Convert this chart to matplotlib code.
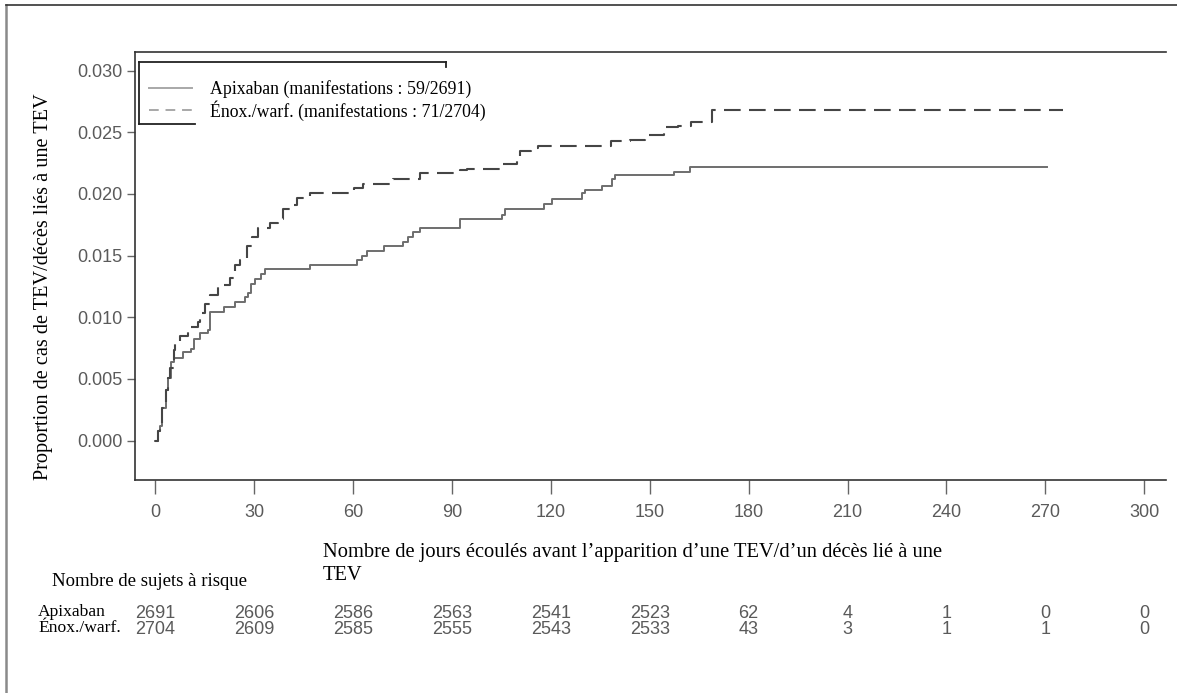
import matplotlib
matplotlib.use("Agg")
import matplotlib.pyplot as plt
import matplotlib.transforms as mtransforms
from matplotlib.lines import Line2D

# Kaplan-Meier style cumulative event curves
apix_days = [0, 1.0, 1.5, 2.0, 3.2, 4.0, 4.75, 5.6, 8.6, 10.8, 11.8, 13.6, 15.9, 16.5,
             20.9, 24.3, 27.3, 28.3, 29.0, 30.3, 32.0, 33.4, 47.0, 61.2, 62.7, 64.2,
             69.3, 75.3, 76.8, 78.3, 80.2, 92.5, 105.1, 106.2, 118.0, 120.3, 129.6,
             130.4, 135.4, 138.5, 139.5, 157.3, 162.3, 270.4]
apix_cum = [0, 0.0008, 0.0012, 0.0026, 0.0041, 0.0051, 0.0064, 0.0067, 0.0072, 0.0074,
            0.0082, 0.0087, 0.0090, 0.0104, 0.0108, 0.0112, 0.0116, 0.0120, 0.0127,
            0.0131, 0.0135, 0.0139, 0.0142, 0.0146, 0.0150, 0.0154, 0.0158, 0.0161,
            0.0165, 0.0169, 0.0172, 0.0180, 0.0183, 0.0188, 0.0192, 0.0196, 0.0201,
            0.0203, 0.0206, 0.0212, 0.0215, 0.0218, 0.0222, 0.0222]

enox_days = [0, 1.0, 1.5, 2.0, 3.2, 4.0, 4.6, 5.6, 6.1, 7.6, 10.1, 13.1, 13.6, 15.2,
             16.7, 19.2, 22.7, 24.3, 25.8, 27.8, 29.3, 31.3, 34.9, 37.4, 38.9, 40.9,
             42.9, 47.0, 60.2, 63.2, 72.3, 80.4, 92.5, 94.5, 104.6, 109.7, 110.7,
             113.9, 116.0, 138.2, 144.0, 148.6, 154.4, 158.5, 162.5, 168.9, 275.4]
enox_cum = [0, 0.0008, 0.0012, 0.0026, 0.0041, 0.0051, 0.0059, 0.0073, 0.0078, 0.0085,
            0.0092, 0.0096, 0.0103, 0.0111, 0.0118, 0.0126, 0.0132, 0.0142, 0.0146,
            0.0158, 0.0165, 0.0172, 0.0176, 0.0180, 0.0188, 0.0191, 0.0197, 0.0201,
            0.0205, 0.0208, 0.0212, 0.0217, 0.0219, 0.0220, 0.0224, 0.0228, 0.0235,
            0.0237, 0.0239, 0.0243, 0.0244, 0.0248, 0.0254, 0.0255, 0.0258, 0.0268,
            0.0268]

# number of subjects at risk
risk_days = [0, 30, 60, 90, 120, 150, 180, 210, 240, 270, 300]
risk_apix = [2691, 2606, 2586, 2563, 2541, 2523, 62, 4, 1, 0, 0]
risk_enox = [2704, 2609, 2585, 2555, 2543, 2533, 43, 3, 1, 1, 0]

y_ticks = [0.000, 0.005, 0.010, 0.015, 0.020, 0.025, 0.030]

serif = "Liberation Serif"
sans = ["Liberation Sans Narrow", "Liberation Sans", "DejaVu Sans"]
tick_grey = "#5a5a5a"
dash = (0, (8, 4))

fig = plt.figure(figsize=(11.77, 6.93), dpi=100)
W, H = 1177.0, 693.0
ax = fig.add_axes([135 / W, 1 - 480 / H, (1166 - 135) / W, (480 - 52) / H])

ax.step(apix_days, apix_cum, where="post", color="#6e6e6e", linewidth=1.4)
ax.step(enox_days, enox_cum, where="post", color="#454545", linewidth=1.5,
        linestyle=dash)

ax.set_xlim(-6.1, 306.6)
ax.set_ylim(-0.0032, 0.0315)
ax.set_xticks(risk_days)
ax.set_yticks(y_ticks)
ax.set_yticklabels([f"{v:.3f}" for v in y_ticks])

for lab in ax.get_xticklabels() + ax.get_yticklabels():
    lab.set_family(sans)
    lab.set_fontsize(13)
    lab.set_color(tick_grey)
ax.tick_params(axis="x", direction="out", length=10, width=1, color="#666666", pad=7)
ax.tick_params(axis="y", direction="out", length=6, width=1, color="#666666", pad=3)

ax.spines["right"].set_visible(False)
for s in ["left", "bottom", "top"]:
    ax.spines[s].set_color("#333333")
    ax.spines[s].set_linewidth(1.2)

# y label, a little below the axes centre as in the source
fig.text(44 / W, 1 - 287 / H, "Proportion de cas de TEV/décès liés à une TEV",
         family=serif, fontsize=14.6, rotation=90, ha="center", va="center")

# legend (text runs past its partly drawn box)
handles = [Line2D([], [], color="#a8a8a8", linewidth=1.4),
           Line2D([], [], color="#a8a8a8", linewidth=1.4, linestyle=(0, (5, 3.5)))]
labels = ["Apixaban (manifestations : 59/2691)",
          "Énox./warf. (manifestations : 71/2704)"]
ax.legend(handles, labels, loc="upper left",
          bbox_to_anchor=(149 / W, 1 - 80 / H), bbox_transform=fig.transFigure,
          prop={"family": serif, "size": 12.8}, frameon=False,
          handlelength=2.4, handletextpad=1.05, borderpad=0,
          labelspacing=0.12, borderaxespad=0)

box_pts = [((139, 62), (446, 62)), ((446, 62), (446, 67)),
           ((139, 62), (139, 124)), ((139, 124), (195, 124))]
for (x0, y0), (x1, y1) in box_pts:
    fig.add_artist(Line2D([x0 / W, x1 / W], [1 - y0 / H, 1 - y1 / H],
                          transform=fig.transFigure, color="#222222", linewidth=1.3))

# x label in two lines, left aligned
fig.text(323 / W, 1 - 553 / H,
         "Nombre de jours écoulés avant l’apparition d’une TEV/d’un décès lié à une",
         family=serif, fontsize=14.8, va="center", ha="left")
fig.text(323 / W, 1 - 575 / H, "TEV", family=serif, fontsize=14.8,
         va="center", ha="left")

# number at risk table
fig.text(52 / W, 1 - 582 / H, "Nombre de sujets à risque", family=serif,
         fontsize=13.5, va="center", ha="left")
fig.text(38 / W, 1 - 612 / H, "Apixaban", family=serif, fontsize=12.6,
         va="center", ha="left")
fig.text(38 / W, 1 - 628 / H, "Énox./warf.", family=serif, fontsize=12.6,
         va="center", ha="left")

trans = mtransforms.blended_transform_factory(ax.transData, fig.transFigure)
for d, a, e in zip(risk_days, risk_apix, risk_enox):
    fig.text(d, 1 - 613 / H, str(a), transform=trans, family=sans, fontsize=13,
             color=tick_grey, ha="center", va="center")
    fig.text(d, 1 - 629 / H, str(e), transform=trans, family=sans, fontsize=13,
             color=tick_grey, ha="center", va="center")

# outer frame of the picture (left and top edges visible)
fig.add_artist(Line2D([6 / W, 6 / W], [0, 1 - 5 / H], transform=fig.transFigure,
                      color="#8a8a8a", linewidth=1.8))
fig.add_artist(Line2D([6 / W, 1], [1 - 5 / H, 1 - 5 / H], transform=fig.transFigure,
                      color="#333333", linewidth=1.2))

fig.savefig("out.png", dpi=100)
